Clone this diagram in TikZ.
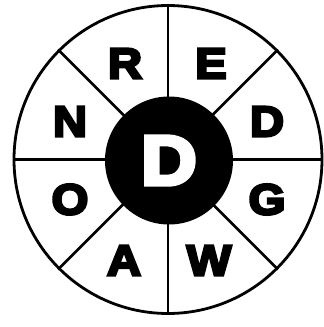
\documentclass[tikz,border=0pt]{standalone}
\usepackage{fontspec}
\setmainfont{Liberation Sans}
\newfontfamily\wheelfont[FakeStretch=1.1,FakeBold=6]{Liberation Sans Bold}
\usetikzlibrary{positioning,backgrounds}
\pgfdeclarelayer{edgelayer}
\pgfdeclarelayer{nodelayer}
\pgfsetlayers{background,edgelayer,nodelayer,main}
\tikzstyle{none}=[inner sep=0mm]
\tikzstyle{rim}=[circle,draw=black,line width=2.8pt,minimum size=308pt,inner sep=0pt]
\tikzstyle{hub}=[circle,fill=black,minimum size=128pt,inner sep=0pt,text=white,font={\wheelfont\fontsize{70}{70}\selectfont}]
\tikzstyle{letter}=[inner sep=0mm,font={\wheelfont\fontsize{43}{43}\selectfont}]
\tikzstyle{spoke}=[line width=2.8pt]

\begin{document}
\begin{tikzpicture}[x=1pt,y=1pt]
	\useasboundingbox (-168,-167.5) rectangle (156,159.5);
	\begin{pgfonlayer}{nodelayer}
		\node [style=rim] (wheel) at (0, 0) {};
		\node [style=hub] (hub) at (1, -1) {D};
		\node [style=letter] (r) at (-43, 96) {R};
		\node [style=letter] (e) at (43, 96) {E};
		\node [style=letter] (n) at (-98, 38) {N};
		\node [style=letter] (d) at (99, 38) {D};
		\node [style=letter] (o) at (-98, -40) {O};
		\node [style=letter] (g) at (99, -40) {G};
		\node [style=letter] (a) at (-44, -101) {A};
		\node [style=letter] (w) at (41, -101) {W};
	\end{pgfonlayer}
	\begin{pgfonlayer}{edgelayer}
		\draw [style=spoke] (wheel.center) to (wheel.0);
		\draw [style=spoke] (wheel.center) to (wheel.45);
		\draw [style=spoke] (wheel.center) to (wheel.90);
		\draw [style=spoke] (wheel.center) to (wheel.135);
		\draw [style=spoke] (wheel.center) to (wheel.180);
		\draw [style=spoke] (wheel.center) to (wheel.225);
		\draw [style=spoke] (wheel.center) to (wheel.270);
		\draw [style=spoke] (wheel.center) to (wheel.315);
	\end{pgfonlayer}
\end{tikzpicture}
\end{document}
